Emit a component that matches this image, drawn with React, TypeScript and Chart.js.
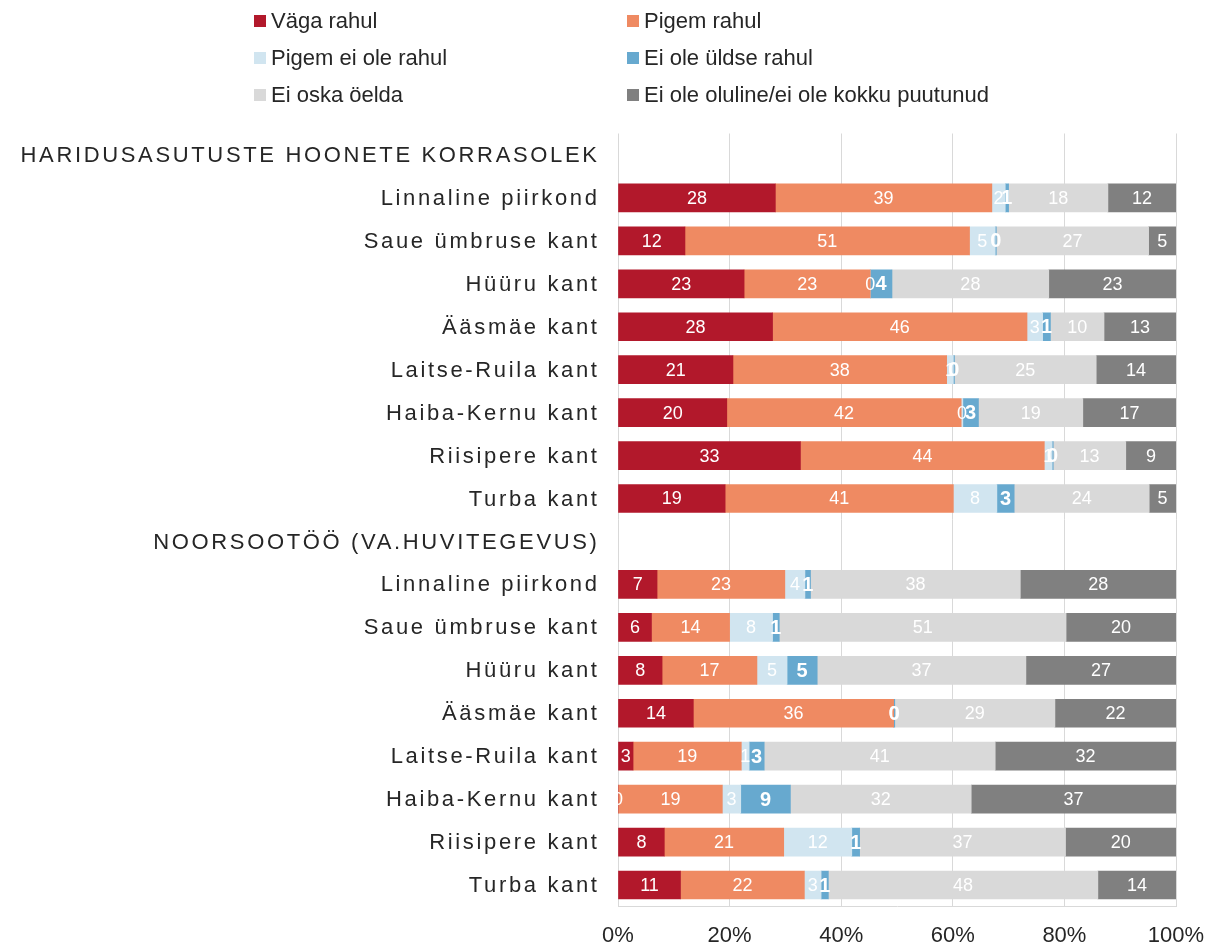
import React, { useEffect, useRef } from "react";
import { Chart, registerables } from "chart.js";

Chart.register(...registerables);

const sectionA = "HARIDUSASUTUSTE HOONETE KORRASOLEK";
const sectionB = "NOORSOOTÖÖ (VA.HUVITEGEVUS)";
const regions = [
  "Linnaline piirkond",
  "Saue ümbruse kant",
  "Hüüru kant",
  "Ääsmäe kant",
  "Laitse-Ruila kant",
  "Haiba-Kernu kant",
  "Riisipere kant",
  "Turba kant",
];

const seriesNames = [
  "Väga rahul",
  "Pigem rahul",
  "Pigem ei ole rahul",
  "Ei ole üldse rahul",
  "Ei oska öelda",
  "Ei ole oluline/ei ole kokku puutunud",
];
const seriesColors = ["#B2182B", "#EF8A62", "#D1E5F0", "#67A9CF", "#D9D9D9", "#808080"];

// Haridusasutuste hoonete korrasolek (per region, %)
const haridusVagaRahul = [28.2, 12.0, 22.6, 27.7, 20.6, 19.5, 32.7, 19.2];
const haridusPigemRahul = [38.8, 51.0, 22.6, 45.6, 38.3, 42.0, 43.7, 40.9];
const haridusPigemEiOle = [2.4, 4.6, 0.0, 2.8, 1.2, 0.3, 1.4, 7.8];
const haridusEiOleUldse = [0.6, 0.2, 3.9, 1.4, 0.2, 2.8, 0.2, 3.1];
const haridusEiOska = [17.8, 27.3, 28.1, 9.6, 25.4, 18.7, 13.0, 24.2];
const haridusEiOluline = [12.2, 4.9, 22.8, 12.9, 14.3, 16.7, 9.0, 4.8];

// Noorsootöö (va. huvitegevus)
const noorVagaRahul = [7.0, 6.0, 7.9, 13.5, 2.7, 0.0, 8.3, 11.2];
const noorPigemRahul = [22.9, 14.0, 17.0, 35.9, 19.4, 18.7, 21.4, 22.2];
const noorPigemEiOle = [3.6, 7.7, 5.4, 0.0, 1.4, 3.3, 12.2, 3.0];
const noorEiOleUldse = [1.0, 1.2, 5.4, 0.2, 2.7, 8.9, 1.4, 1.3];
const noorEiOska = [37.6, 51.4, 37.4, 28.7, 41.4, 32.4, 36.9, 48.3];
const noorEiOluline = [27.9, 19.7, 26.9, 21.7, 32.4, 36.7, 19.8, 14.0];

const xTicks = [0, 20, 40, 60, 80, 100];

const FONT = "'Liberation Sans', Arial, Helvetica, sans-serif";

const haridusSeries = [
  haridusVagaRahul,
  haridusPigemRahul,
  haridusPigemEiOle,
  haridusEiOleUldse,
  haridusEiOska,
  haridusEiOluline,
];
const noorSeries = [
  noorVagaRahul,
  noorPigemRahul,
  noorPigemEiOle,
  noorEiOleUldse,
  noorEiOska,
  noorEiOluline,
];

const categories = [sectionA, ...regions, sectionB, ...regions];

const yLabelsPlugin = {
  id: "yLabels",
  afterDraw(chart: any) {
    const ctx = chart.ctx;
    const y = chart.scales.y;
    ctx.save();
    ctx.font = `22px ${FONT}`;
    (ctx as any).letterSpacing = "2.65px";
    ctx.fillStyle = "#262626";
    ctx.textAlign = "right";
    ctx.textBaseline = "middle";
    categories.forEach((c, i) => {
      ctx.fillText(c, 599.6, y.getPixelForValue(i) + 1);
    });
    ctx.restore();
  },
};

const valueLabelsPlugin = {
  id: "valueLabels",
  afterDatasetsDraw(chart: any) {
    const ctx = chart.ctx;
    const area = chart.chartArea;
    ctx.save();
    ctx.beginPath();
    ctx.rect(area.left, area.top, area.right - area.left, area.bottom - area.top);
    ctx.clip();
    ctx.textAlign = "center";
    ctx.textBaseline = "middle";
    ctx.fillStyle = "#ffffff";
    chart.data.datasets.forEach((ds: any, di: number) => {
      const meta = chart.getDatasetMeta(di);
      ctx.font = di === 3 ? `bold 20px ${FONT}` : `18px ${FONT}`;
      meta.data.forEach((el: any, i: number) => {
        const v = ds.data[i];
        if (v === null || v === undefined) return;
        const cx = (el.x + el.base) / 2;
        ctx.fillText(String(Math.round(v)), cx, el.y + 1);
      });
    });
    ctx.restore();
  },
};

export default function App() {
  const canvasRef = useRef<HTMLCanvasElement | null>(null);

  useEffect(() => {
    document.body.style.margin = "0";
    document.body.style.overflow = "hidden";
    const canvas = canvasRef.current;
    if (!canvas) return;
    const datasets = seriesNames.map((name, si) => ({
      label: name,
      data: [null, ...haridusSeries[si], null, ...noorSeries[si]],
      backgroundColor: seriesColors[si],
      borderWidth: 0,
      barThickness: 28,
    }));
    const chart = new Chart(canvas, {
      type: "bar",
      data: { labels: categories, datasets: datasets as any },
      options: {
        indexAxis: "y",
        responsive: false,
        animation: false,
        devicePixelRatio: 1,
        layout: { padding: { left: 618, right: 33, top: 133.5, bottom: 0 } },
        plugins: { legend: { display: false }, tooltip: { enabled: false } },
        scales: {
          x: {
            stacked: true,
            min: 0,
            max: 100,
            afterBuildTicks(scale: any) {
              scale.ticks = xTicks.map((v) => ({ value: v }));
            },
            afterFit(scale: any) {
              scale.height = 37.5;
              scale.paddingLeft = 0;
              scale.paddingRight = 0;
            },
            grid: { color: "#D9D9D9", lineWidth: 1, drawTicks: false },
            border: { display: true, color: "#D9D9D9" },
            ticks: {
              padding: 16,
              color: "#262626",
              font: { family: FONT, size: 22 },
              callback: (v: any) => `${v}%`,
            },
          },
          y: {
            stacked: true,
            display: false,
          },
        },
      },
      plugins: [yLabelsPlugin, valueLabelsPlugin],
    });
    return () => chart.destroy();
  }, []);

  const legendRows = [
    [0, 1],
    [2, 3],
    [4, 5],
  ];
  const rowCenters = [21, 58, 95];
  const colLefts = [254, 627];

  return (
    <div style={{ position: "relative", width: 1209, height: 944, overflow: "hidden", background: "#fff" }}>
      <canvas ref={canvasRef} width={1209} height={944} style={{ display: "block" }} />
      {legendRows.map((row, ri) =>
        row.map((si, ci) => (
          <div
            key={si}
            style={{
              position: "absolute",
              left: colLefts[ci],
              top: rowCenters[ri] - 15,
              height: 30,
              display: "flex",
              alignItems: "center",
              fontFamily: FONT,
              fontSize: 22,
              color: "#262626",
              whiteSpace: "nowrap",
            }}
          >
            <span
              style={{
                display: "inline-block",
                width: 12,
                height: 12,
                background: seriesColors[si],
                marginRight: 5,
              }}
            />
            {seriesNames[si]}
          </div>
        ))
      )}
    </div>
  );
}
